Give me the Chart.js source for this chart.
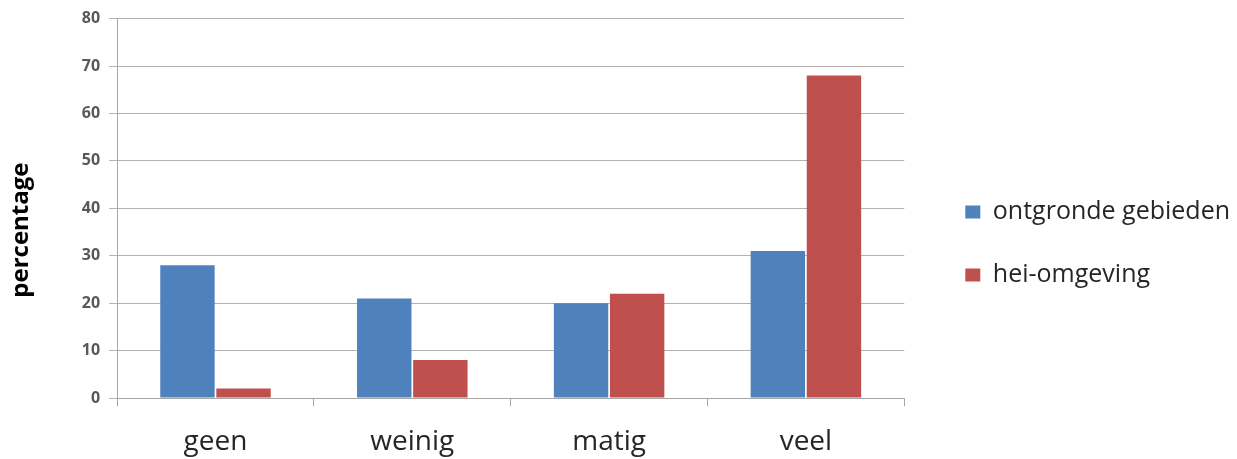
<!DOCTYPE html>
<html><head><meta charset="utf-8">
<script src="https://cdn.jsdelivr.net/npm/chart.js@4/dist/chart.umd.min.js"></script>
<style>html,body{margin:0;padding:0;background:#fff}#wrap{width:1237px;height:459px}</style>
</head><body><div id="wrap"><canvas id="c" width="1237" height="459"></canvas></div>
<script>
const categories = ['geen', 'weinig', 'matig', 'veel'];
const seriesNames = ['ontgronde gebieden', 'hei-omgeving'];
const ontgrondeGebieden = [28, 21, 20, 31];
const heiOmgeving = [2, 8, 22, 68];
const yTitle = 'percentage';

new Chart(document.getElementById('c'), {
  type: 'bar',
  data: {
    labels: categories,
    datasets: [
      { label: seriesNames[0], data: ontgrondeGebieden, backgroundColor: '#4f81bd', barPercentage: 0.97, categoryPercentage: 0.57 },
      { label: seriesNames[1], data: heiOmgeving, backgroundColor: '#c0504d', barPercentage: 0.97, categoryPercentage: 0.57 }
    ]
  },
  options: {
    responsive: false,
    animation: false,
    layout: { padding: { top: 8, right: -3, left: 3, bottom: 0 } },
    plugins: {
      legend: {
        position: 'right',
        maxWidth: 340,
        title: { display: true, text: ' ', font: { size: 10 }, padding: { top: 4, bottom: 4 } },
        labels: {
          boxWidth: 15, boxHeight: 13, padding: 38,
          color: '#262626',
          font: { family: 'Open Sans', size: 25 }
        }
      },
      tooltip: { enabled: false }
    },
    scales: {
      x: {
        grid: { offset: true, drawOnChartArea: false, color: '#a6a6a6', tickLength: 8 },
        border: { color: '#a6a6a6' },
        ticks: { color: '#262626', font: { family: 'Open Sans', size: 28 }, padding: 19 },
        afterFit: function (scale) { scale.height = 61; }
      },
      y: {
        min: 0, max: 80,
        ticks: { stepSize: 10, color: '#595959', font: { family: 'Open Sans', size: 16, weight: 'bold' }, padding: 9 },
        grid: { color: '#b3b3b3', tickLength: 8 },
        border: { color: '#a6a6a6' },
        title: { display: true, text: yTitle + '\u00a0\u00a0\u00a0\u00a0\u00a0\u00a0\u00a0', color: '#000', font: { family: 'Open Sans', size: 24, weight: 'bold' }, padding: { top: 4, bottom: 37 } }
      },
      gap: {
        position: 'right',
        display: true,
        grid: { display: false, drawOnChartArea: false },
        border: { display: false },
        ticks: { display: false },
        afterFit: function (scale) { scale.width = 23; }
      }
    }
  }
});
</script></body></html>
